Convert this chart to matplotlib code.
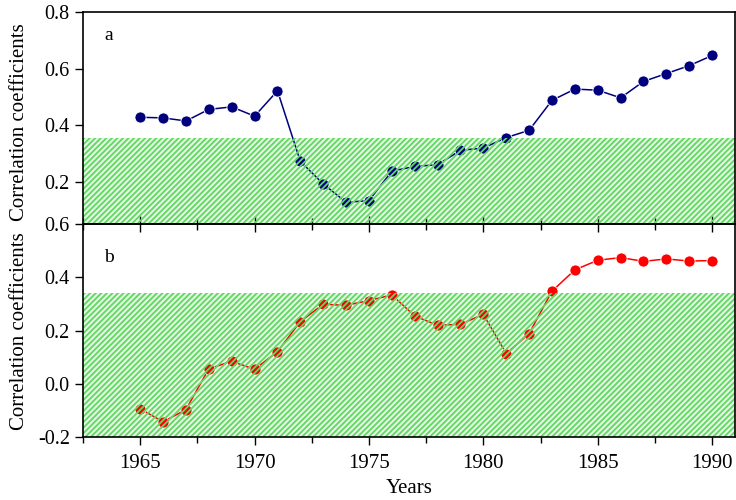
import matplotlib
matplotlib.use("Agg")
import matplotlib.pyplot as plt
import numpy as np

years = list(range(1965, 1991))
corr_a = [0.428, 0.426, 0.415, 0.456, 0.465, 0.432, 0.522, 0.272, 0.192, 0.127,
          0.133, 0.237, 0.254, 0.260, 0.311, 0.319, 0.356, 0.382, 0.488, 0.528,
          0.524, 0.497, 0.555, 0.583, 0.611, 0.647]
corr_b = [-0.093, -0.142, -0.096, 0.057, 0.085, 0.055, 0.121, 0.234, 0.299, 0.295,
          0.313, 0.334, 0.255, 0.220, 0.224, 0.261, 0.114, 0.189, 0.348, 0.428,
          0.464, 0.474, 0.460, 0.469, 0.461, 0.463]
thresh_a = 0.355
thresh_b = 0.343
xticks = [1965, 1970, 1975, 1980, 1985, 1990]

plt.rcParams['font.family'] = ['Liberation Serif', 'DejaVu Serif']
plt.rcParams['axes.unicode_minus'] = False
plt.rcParams['hatch.linewidth'] = 1.3
plt.rcParams['hatch.color'] = '#5fd85f'

fig = plt.figure(figsize=(7.36, 5.0), dpi=100)
L, R = 83/736, 735/736
ax1 = fig.add_axes([L, 1-224/500, R-L, (224-12.3)/500])
ax2 = fig.add_axes([L, 1-437.3/500, R-L, (437.3-224)/500])

for ax, vals, col, thr, ylim, yt, lab, ly in [
        (ax1, corr_a, '#00007f', thresh_a, (0.05, 0.8), [0.2, 0.4, 0.6, 0.8], 'a', 0.93),
        (ax2, corr_b, '#ff0000', thresh_b, (-0.2, 0.6), [-0.2, 0.0, 0.2, 0.4, 0.6], 'b', 0.885)]:
    xs = [1962, 1992]
    ax.fill_between(xs, [ylim[0] - 1] * 2, [thr] * 2, facecolor='#e4f8e4',
                    edgecolor='none', lw=0, zorder=1)
    ax.plot(years, vals, '-', color=col, lw=1.1, marker='o', ms=8,
            mfc=col, mec='white', mew=0.6, zorder=2)
    ax.fill_between(xs, [ylim[0] - 1] * 2, [thr] * 2, facecolor='none',
                    edgecolor='#5fd85f', hatch='//////', lw=0, zorder=3)
    ax.set_xlim(1963, 1991)
    ax.set_ylim(*ylim)
    ax.set_yticks(yt)
    ax.set_xticks(xticks)
    ax.set_xticks(np.arange(1962.5, 1991, 2.5), minor=True)
    ax.set_ylabel('Correlation coefficients', fontsize=15)
    ax.text(0.033, ly, lab, transform=ax.transAxes,
            fontsize=14, va='top', ha='left')
    ax.tick_params(axis='y', direction='out', length=6, width=1, labelsize=14.5)
    for s in ax.spines.values():
        s.set_linewidth(1.2)
        s.set_zorder(5)

ax1.tick_params(axis='x', which='both', direction='in', bottom=True, top=False,
                labelbottom=False)
ax1.tick_params(axis='x', which='major', length=6, width=1)
ax1.tick_params(axis='x', which='minor', length=4, width=1)
ax2.tick_params(axis='x', which='both', direction='out', bottom=True, top=False,
                labelsize=15, pad=6)
ax2.tick_params(axis='x', which='major', length=6, width=1)
ax2.tick_params(axis='x', which='minor', length=4, width=1)
sec = ax2.secondary_xaxis('top')
sec.set_xticks(xticks)
sec.set_xticks(np.arange(1962.5, 1991, 2.5), minor=True)
sec.tick_params(axis='x', which='both', direction='in', labeltop=False)
sec.tick_params(axis='x', which='major', length=6, width=1)
sec.tick_params(axis='x', which='minor', length=4, width=1)
sec.spines['top'].set_linewidth(1.2)
ax2.set_xlabel('Years', fontsize=15, labelpad=4)

ax1.yaxis.set_label_coords(-0.083, 0.48)
ax2.yaxis.set_label_coords(-0.083, 0.5)

fig.savefig('out.png', dpi=100)
